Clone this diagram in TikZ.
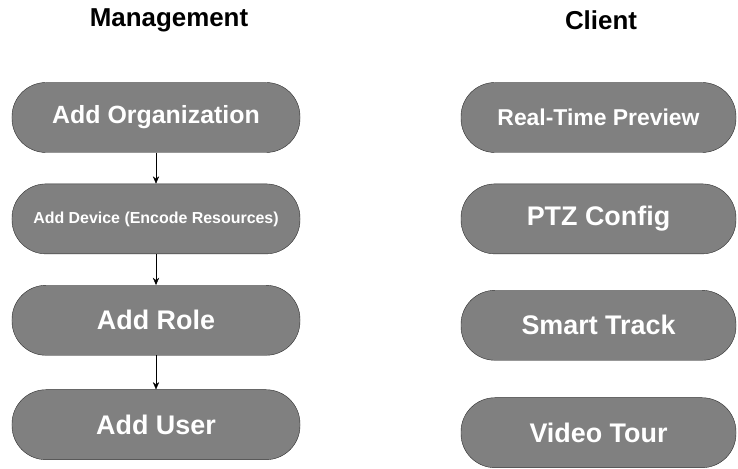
\documentclass[tikz,border=0pt]{standalone}
\usepackage{fontspec}
\setmainfont{Liberation Sans}
\usetikzlibrary{positioning,arrows.meta}
\definecolor{pillgray}{gray}{0.5}

\begin{document}
\begin{tikzpicture}[
  x=1bp, y=1bp,
  pill/.style={rectangle, draw=gray!35!black, fill=pillgray, rounded corners=34bp, text=white,
    font=\bfseries\fontsize{25}{28}\selectfont, minimum height=70bp, inner sep=2pt},
  mgmt/.style={pill, minimum width=288bp},
  client/.style={pill, minimum width=275bp},
  head/.style={font=\bfseries\fontsize{26}{30}\selectfont},
  arrow/.style={-{Stealth[length=2.6mm, width=2.2mm]}, thin},
]
\useasboundingbox (0,0) rectangle (738,469);

% === HEADINGS ===
\node[head] (hmgmt) at (169,449) {Management};
\node[head] (hclient) at (601,449) {Client};

% === MANAGEMENT (left) ===
\node[mgmt] (org) at (156,351.5) {Add Organization};
\node[mgmt, below=31bp of org, font=\bfseries\fontsize{16}{19}\selectfont] (dev) {Add Device (Encode Resources)};
\node[mgmt, below=31bp of dev, font=\bfseries\fontsize{27}{30}\selectfont] (role) {Add Role};
\node[mgmt, below=34bp of role, font=\bfseries\fontsize{27}{30}\selectfont] (user) {Add User};

\draw[arrow] (org) -- (dev);
\draw[arrow] (dev) -- (role);
\draw[arrow] (role) -- (user);

% === CLIENT (right) ===
\node[client, font=\bfseries\fontsize{23}{26}\selectfont] (preview) at (598.5,351.5) {Real-Time Preview};
\node[client, below=31bp of preview, font=\bfseries\fontsize{27}{30}\selectfont] (ptz) {PTZ Config};
\node[client, below=36bp of ptz, font=\bfseries\fontsize{27}{30}\selectfont] (track) {Smart Track};
\node[client, below=37bp of track, font=\bfseries\fontsize{27}{30}\selectfont] (tour) {Video Tour};
\end{tikzpicture}
\end{document}
